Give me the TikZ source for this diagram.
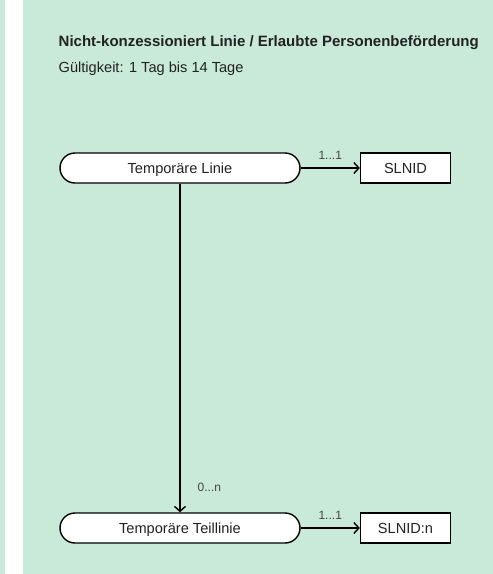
\documentclass[tikz,border=0pt]{standalone}
\usepackage{fontspec}
\setmainfont{Liberation Sans}
\usetikzlibrary{arrows.meta}
\definecolor{mint}{HTML}{C9EAD8}
\definecolor{ink}{HTML}{222222}

\begin{document}
\begin{tikzpicture}[x=1pt,y=-1pt,line width=1.4pt,
    stadium/.style={draw,fill=white,rounded corners=15pt,minimum width=240pt,minimum height=30pt,
      inner sep=0pt,text height=10.4pt,text depth=0pt,text=ink,font=\fontsize{14.6}{17}\selectfont},
    idbox/.style={stadium,sharp corners,minimum width=90pt},
    mult/.style={inner sep=2pt,text=ink!85,font=\fontsize{12}{14}\selectfont}]
  \useasboundingbox (0,0) rectangle (493,574);
  \fill[mint] (0,0) rectangle (5,574);
  \fill[mint] (23,0) rectangle (493,574);
  \node[anchor=base west,inner sep=0pt,text=ink,font=\bfseries\fontsize{15}{17}\selectfont] (titel) at (58,46.7)
    {Nicht-konzessioniert Linie / Erlaubte Personenbeförderung};
  \node[anchor=base west,inner sep=0pt,text=ink,font=\fontsize{14.6}{17}\selectfont] (gueltig) at (58,72.7)
    {Gültigkeit: 1 Tag bis 14 Tage};
  \draw
    (180,168) node[stadium] (lin) {Temporäre Linie}
    (405.5,168) node[idbox] (id) {SLNID}
    (180,528) node[stadium] (teil) {Temporäre Teillinie}
    (405.5,528) node[idbox] (idn) {SLNID:n};
  \begin{scope}[-{Straight Barb[length=5pt,width=11pt]}]
    \draw (lin) to node[mult,above=6pt] {1...1} (id);
    \draw (teil) to node[mult,above=6pt] {1...1} (idn);
    \draw (lin) to node[mult,at end,anchor=south west,xshift=15pt,yshift=18pt] {0...n} (teil);
  \end{scope}
\end{tikzpicture}
\end{document}
